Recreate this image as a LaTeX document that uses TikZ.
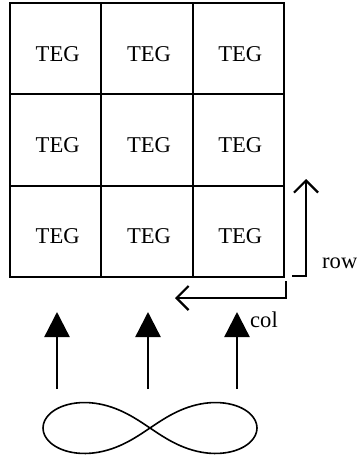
\documentclass[tikz,border=0pt]{standalone}
\usepackage{fontspec}
\setmainfont{Liberation Serif}
\usetikzlibrary{arrows.meta}
\begin{document}
\begin{tikzpicture}[x=1pt,y=-1pt,
  cell/.style={draw,line width=2.2pt,minimum size=91.33pt,inner sep=0pt,outer sep=0pt},
  teg/.style={font=\fontsize{22.6}{27}\selectfont,inner sep=0pt},
  dirarrow/.style={line width=2.2pt,-{Straight Barb[length=12pt,width=24pt]}},
  flowarrow/.style={line width=2.4pt,-{Triangle[length=25pt,width=25pt]}},
  loopline/.style={line width=1.6pt}]
\useasboundingbox (0,0) rectangle (356,460);

% 3x3 array of TEG modules
\foreach \r in {0,1,2}{
  \foreach \c in {0,1,2}{
    \node[cell] (c\r\c) at ({55.67+91.33*\c},{48.67+91.33*\r}) {};
    \node[teg] (t\r\c) at ([xshift=2pt,yshift=-5pt]c\r\c.center) {TEG};
  }
}

% row direction
\coordinate (rowA) at (292,276);
\coordinate (rowB) at (306,276);
\coordinate (rowC) at (306,179);
\draw[dirarrow] (rowA) -- (rowB) -- (rowC);
\node[teg,anchor=base west] (rowlbl) at (322,268) {row};

% column direction
\coordinate (colA) at (286,281);
\coordinate (colB) at (286,298);
\coordinate (colC) at (175,298);
\draw[dirarrow] (colA) -- (colB) -- (colC);
\node[teg,anchor=base west] (collbl) at (250,327) {col};

% flow arrows
\foreach \x [count=\i] in {57,148,237}{
  \coordinate (f\i a) at (\x,389);
  \coordinate (f\i b) at (\x,312);
  \draw[flowarrow] (f\i a) -- (f\i b);
}

% figure-eight loop
\draw[loopline] plot[smooth,samples=121,domain=0:360,variable=\t]
  ({150+107*cos(\t)/(1+(sin(\t))^2)},{428+72*sin(\t)*cos(\t)/(1+(sin(\t))^2)});
\end{tikzpicture}
\end{document}
